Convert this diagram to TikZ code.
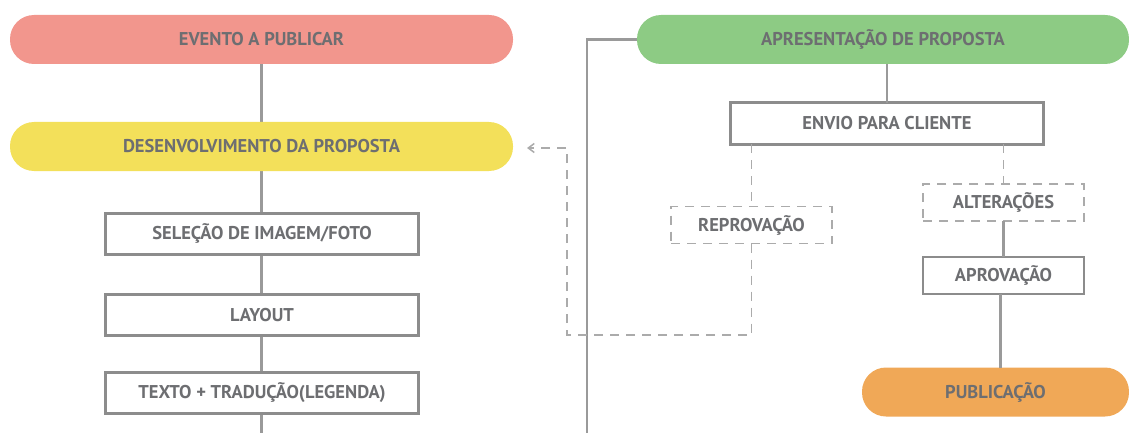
\documentclass[tikz,border=0pt]{standalone}
\usepackage{fontspec}
\setmainfont{PT Sans}
\usetikzlibrary{arrows.meta}
\definecolor{txt}{HTML}{6D6E71}
\definecolor{bd}{HTML}{8C8C8C}
\definecolor{ln}{HTML}{9A9A9A}
\definecolor{dl}{HTML}{ABABAB}
\definecolor{pink}{HTML}{F2968D}
\definecolor{yel}{HTML}{F3E05A}
\definecolor{grn}{HTML}{8DCB84}
\definecolor{org}{HTML}{F0A857}
\tikzset{
  lbl/.style={text=txt,font=\bfseries\fontsize{18.5}{18.5}\selectfont,inner sep=0pt,outer sep=0pt},
  pill/.style={lbl,rounded corners=24pt,minimum height=49pt},
  sbox/.style={lbl,draw=bd,line width=3pt,fill=white,minimum width=313pt,minimum height=41pt},
  thinbox/.style={lbl,draw=bd,line width=1.5pt,fill=white},
  dbox/.style={lbl,draw=dl,line width=1.5pt,dash pattern=on 9pt off 7pt,fill=white},
  conn/.style={draw=ln,line width=2.5pt},
  dconn/.style={draw=dl,line width=1.5pt,dash pattern=on 9pt off 7pt},
}
\begin{document}
\begin{tikzpicture}[x=1pt,y=-1pt]
\useasboundingbox (0,0) rectangle (1129,433);
% left column
\node[pill,fill=pink,minimum width=503pt] (evento) at (261.5,39.5) {EVENTO A PUBLICAR};
\coordinate (lbot) at (261.5,433);
\draw[conn] (evento.south) -- (lbot);
\node[pill,fill=yel,minimum width=503pt] (desenv) at (261.5,146.5) {DESENVOLVIMENTO DA PROPOSTA};
\node[sbox] (selecao) at (262,233.5) {SELEÇÃO DE IMAGEM/FOTO};
\node[sbox] (layout) at (262,315) {LAYOUT};
\node[sbox] (texto) at (262,392.5) {TEXTO + TRADUÇÃO(LEGENDA)};
% right column
\begin{scope}
\clip (0,0) rectangle (1129,433);
\node[pill,fill=grn,minimum width=492pt] (apres) at (883,39.5) {APRESENTAÇÃO DE PROPOSTA};
\node[pill,fill=org,minimum width=267pt] (pub) at (995.5,392) {PUBLICAÇÃO};
\end{scope}
\coordinate (rbot) at (587,433);
\draw[conn] (apres.west) -| (rbot);
\node[sbox,minimum width=313pt] (envio) at (887,123.5) {ENVIO PARA CLIENTE};
\draw[conn] (apres.south -| envio.north) -- (envio.north);
\node[dbox,minimum width=161pt,minimum height=37pt] (reprov) at (751.5,225) {REPROVAÇÃO};
\node[dbox,minimum width=161pt,minimum height=37pt] (alter) at (1003.5,202.5) {ALTERAÇÕES};
\node[thinbox,minimum width=161pt,minimum height=37pt] (aprov) at (1003.5,275.5) {APROVAÇÃO};
\draw[dconn] (envio.south -| reprov.north) -- (reprov.north);
\draw[dconn] (envio.south -| alter.north) -- (alter.north);
\draw[conn] (alter.south) -- (aprov.north);
\draw[conn] ([xshift=-3pt]aprov.south) -- ([xshift=-3pt]aprov.south |- pub.north);
\coordinate (c1) at (567,335);
\coordinate (c2) at (567,148);
\draw[dconn,-{Straight Barb[length=6pt,width=9pt]},shorten >=14pt] (reprov.south) |- (c1) -- (c2) -- (c2 -| desenv.east);
\end{tikzpicture}
\end{document}
